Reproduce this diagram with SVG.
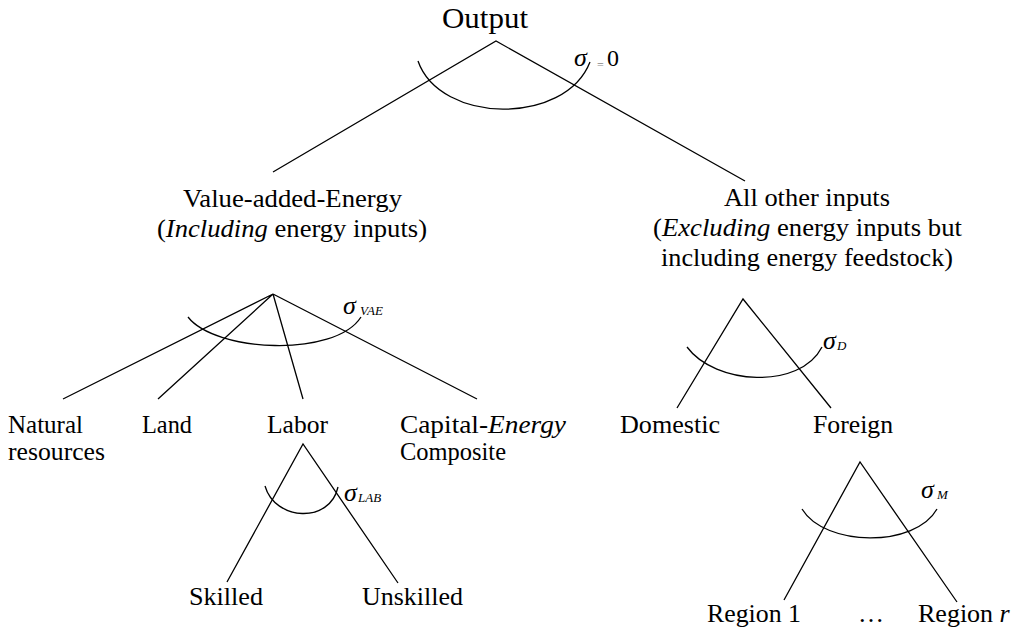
<svg xmlns="http://www.w3.org/2000/svg" width="1016" height="629" viewBox="0 0 1016 629" font-family="Liberation Serif, Times New Roman, DejaVu Serif, serif">
<style>
text{font-family:'Liberation Serif','Times New Roman','DejaVu Serif',serif;fill:#000}
.t{font-size:26px}
.o{font-size:29px}
.i{font-style:italic}
.s{font-size:26px;font-style:italic}
.sub{font-size:13px;font-style:italic}
.ln{stroke:#000;stroke-width:1.3;fill:none}
</style>
<rect width="1016" height="629" fill="#fff"/>
<g id="connectors">
<path class="ln" d="M273,172 L496,41 L745,181"/>
<path class="ln" d="M418,61 C440,124 565,126 590,62"/>
<path class="ln" d="M63,399 L273,294 L158,399 M273,294 L303,399 M273,294 L477,399"/>
<path class="ln" d="M188,317 C215,352 335,358 361,317"/>
<path class="ln" d="M677,408 L743,299 L831,408"/>
<path class="ln" d="M687,347 C715,385 800,390 822,347"/>
<path class="ln" d="M227,582 L303,444 L398,583"/>
<path class="ln" d="M265,486 C275,521 330,524 338,487"/>
<path class="ln" d="M784,600 L860,462 L957,602"/>
<path class="ln" d="M802,509 C825,547 915,548 937,509"/>
</g>
<g id="output"><text class="o" x="442" y="28" textLength="86" lengthAdjust="spacingAndGlyphs">Output</text></g>
<g id="sigma-top"><text class="s" x="574" y="66">σ</text><text x="597" y="69" style="font-size:12px;fill:#888">=</text><text class="t" x="607" y="66" style="font-size:24px">0</text></g>
<g id="vae"><text class="t" x="183" y="207" textLength="219" lengthAdjust="spacingAndGlyphs">Value-added-Energy</text><text class="t" x="157" y="237" textLength="270" lengthAdjust="spacingAndGlyphs">(<tspan class="i">Including</tspan> energy inputs)</text></g>
<g id="other"><text class="t" x="724" y="206" textLength="166" lengthAdjust="spacingAndGlyphs">All other inputs</text><text class="t" x="653" y="236" textLength="309" lengthAdjust="spacingAndGlyphs">(<tspan class="i">Excluding</tspan> energy inputs but</text><text class="t" x="661" y="266" textLength="292" lengthAdjust="spacingAndGlyphs">including energy feedstock)</text></g>
<g id="sigma-vae"><text class="s" x="343" y="314">σ</text><text class="sub" x="360" y="315">VAE</text></g>
<g id="natural"><text class="t" x="8" y="433" textLength="75" lengthAdjust="spacingAndGlyphs">Natural</text><text class="t" x="8" y="460" textLength="97" lengthAdjust="spacingAndGlyphs">resources</text></g>
<g id="land"><text class="t" x="142" y="433" textLength="50" lengthAdjust="spacingAndGlyphs">Land</text></g>
<g id="labor"><text class="t" x="267" y="433" textLength="61" lengthAdjust="spacingAndGlyphs">Labor</text></g>
<g id="capital"><text class="t" x="400" y="433" textLength="166" lengthAdjust="spacingAndGlyphs">Capital-<tspan class="i">Energy</tspan></text><text class="t" x="400" y="460" textLength="106" lengthAdjust="spacingAndGlyphs">Composite</text></g>
<g id="sigma-d"><text class="s" x="823" y="349">σ</text><text class="sub" x="837" y="350">D</text></g>
<g id="domestic"><text class="t" x="620" y="433" textLength="100" lengthAdjust="spacingAndGlyphs">Domestic</text></g>
<g id="foreign"><text class="t" x="813" y="433" textLength="80" lengthAdjust="spacingAndGlyphs">Foreign</text></g>
<g id="sigma-lab"><text class="s" x="344" y="501">σ</text><text class="sub" x="358" y="502">LAB</text></g>
<g id="skilled"><text class="t" x="189" y="605" textLength="74" lengthAdjust="spacingAndGlyphs">Skilled</text></g>
<g id="unskilled"><text class="t" x="362" y="605" textLength="101" lengthAdjust="spacingAndGlyphs">Unskilled</text></g>
<g id="sigma-m"><text class="s" x="921" y="498">σ</text><text class="sub" x="937" y="499">M</text></g>
<g id="region1"><text class="t" x="707" y="622" textLength="94" lengthAdjust="spacingAndGlyphs">Region 1</text></g>
<g id="dots"><text class="t" x="858" y="622">…</text></g>
<g id="regionr"><text class="t" x="918" y="622">Region <tspan class="i">r</tspan></text></g>
</svg>
